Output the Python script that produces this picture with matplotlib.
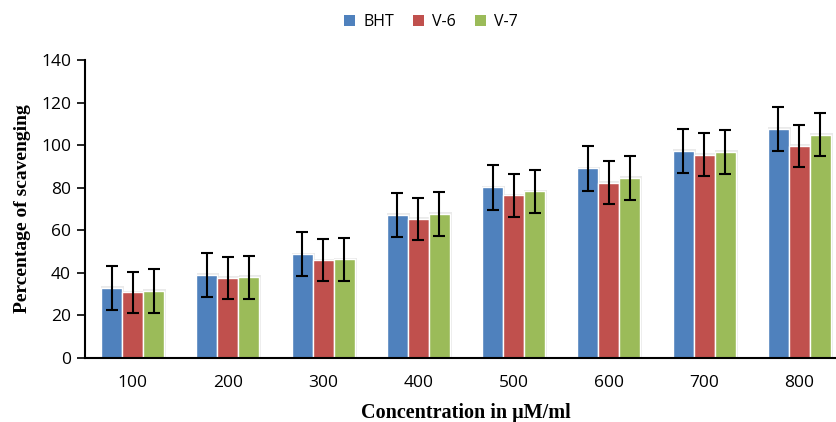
import numpy as np
import matplotlib
matplotlib.use("Agg")
import matplotlib.pyplot as plt
from matplotlib.patches import Patch

# Data
concentrations = ["100", "200", "300", "400", "500", "600", "700", "800"]
bht = [33.0, 39.1, 48.7, 67.2, 80.2, 89.1, 97.2, 107.6]
v6 = [30.8, 37.6, 45.9, 65.3, 76.4, 82.3, 95.5, 99.6]
v7 = [31.6, 38.0, 46.4, 67.6, 78.3, 84.5, 96.8, 104.9]
bht_err = [10.4, 10.4, 10.3, 10.4, 10.5, 10.5, 10.5, 10.4]
v6_err = [9.7, 9.7, 9.8, 9.9, 10.0, 10.1, 10.0, 9.8]
v7_err = [10.3, 10.1, 10.1, 10.2, 10.1, 10.4, 10.3, 10.2]

series = ["BHT", "V-6", "V-7"]
colors = ["#4F81BD", "#C0504D", "#9BBB59"]

fig = plt.figure(figsize=(8.37, 4.22), dpi=100)
ax = fig.add_axes([85 / 837, 64 / 422, 762 / 837, 298 / 422])

x = np.arange(len(concentrations))
width = 0.22

for i, (vals, errs, col) in enumerate(zip([bht, v6, v7], [bht_err, v6_err, v7_err], colors)):
    pos = x + (i - 1) * width
    # soft grey shadow behind each bar
    ax.bar(pos + 0.012, np.array(vals) + 0.8, width=width + 0.02,
           color="#dcdcdc", alpha=0.6, zorder=1, linewidth=0)
    ax.bar(pos, vals, width=width, color=col, edgecolor="white",
           linewidth=1.0, zorder=2)
    ax.errorbar(pos, vals, yerr=errs, fmt="none", ecolor="black",
                elinewidth=1.5, capsize=4, capthick=1.5, zorder=3)

ax.set_xlim(-0.5, 7.5)
ax.set_ylim(0, 140)
ax.set_yticks(range(0, 141, 20))
ax.set_xticks(x)
ax.set_xticklabels(concentrations)

ax.spines["top"].set_visible(False)
ax.spines["right"].set_visible(False)
ax.spines["left"].set_linewidth(1.5)
ax.spines["bottom"].set_linewidth(1.5)

ax.tick_params(axis="y", direction="out", length=6, width=1.2,
               labelsize=12.5, pad=4)
ax.tick_params(axis="x", length=0, labelsize=12.5, pad=12)
for lab in ax.get_xticklabels() + ax.get_yticklabels():
    lab.set_family("Open Sans")

ax.set_ylabel("Percentage of scavenging", family="Liberation Serif",
              fontweight="bold", fontsize=14, labelpad=7)
ax.set_xlabel("Concentration in \u03bcM/ml", family="Liberation Serif",
              fontweight="bold", fontsize=14.5, labelpad=9)

handles = [Patch(facecolor=c, edgecolor="none") for c in colors]
fig.legend(handles, series, loc="upper center", bbox_to_anchor=(0.515, 1.0),
           ncol=3, frameon=False, handlelength=0.7, handleheight=0.7,
           handletextpad=0.5, columnspacing=1.2,
           prop={"family": "Open Sans", "size": 11.5})

fig.savefig("out.png", dpi=100)
